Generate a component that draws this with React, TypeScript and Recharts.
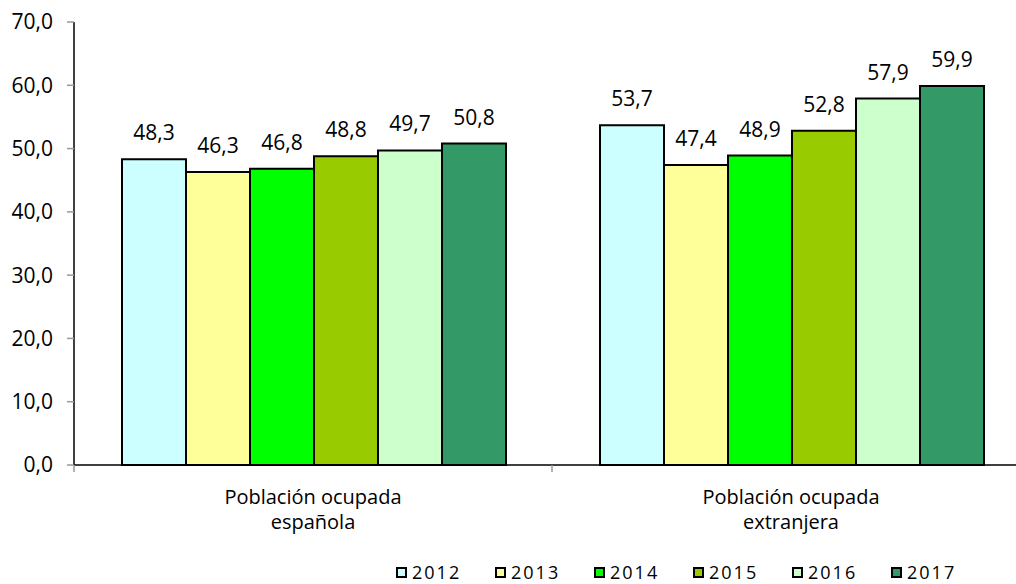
import React from 'react';
import { BarChart, Bar, XAxis, YAxis, LabelList } from 'recharts';

const categories = ['Población ocupada\nespañola', 'Población ocupada\nextranjera'];
const years = ['2012', '2013', '2014', '2015', '2016', '2017'];
const colors = ['#CCFFFF', '#FFFF99', '#00FF00', '#99CC00', '#CCFFCC', '#339966'];
const espanola = [48.3, 46.3, 46.8, 48.8, 49.7, 50.8];
const extranjera = [53.7, 47.4, 48.9, 52.8, 57.9, 59.9];
const yTicks = [0, 10, 20, 30, 40, 50, 60, 70];

const seriesByCategory = [espanola, extranjera];
const data = categories.map((name, i) => {
  const row: Record<string, string | number> = { name };
  years.forEach((y, j) => {
    row['y' + y] = seriesByCategory[i][j];
  });
  return row;
});

const FONT = '"Open Sans", "Noto Sans", sans-serif';
const fmt = (v: number) => Number(v).toFixed(1).replace('.', ',');
const HALF_BAND = 239;

function CategoryTick(props: any) {
  const { x, y, payload, index } = props;
  const lines = String(payload.value).split('\n');
  const axisY = y - 8;
  return (
    <g>
      {index === 0 && (
        <line x1={x - HALF_BAND} x2={x - HALF_BAND} y1={axisY} y2={axisY + 7} stroke="#999" strokeWidth={1.5} />
      )}
      <line x1={x + HALF_BAND} x2={x + HALF_BAND} y1={axisY} y2={axisY + 7} stroke="#999" strokeWidth={1.5} />
      {lines.map((l, i) => (
        <text key={i} x={x} y={axisY + 39 + i * 25} textAnchor="middle" fontSize={20} fill="#000" fontFamily={FONT}>
          {l}
        </text>
      ))}
    </g>
  );
}

export default function App() {
  return (
    <div style={{ position: 'absolute', left: 0, top: 0, width: 1016, height: 584, overflow: 'hidden', background: '#fff' }}>
      <BarChart
        width={1040}
        height={584}
        data={data}
        margin={{ top: 22, right: 10, bottom: 0, left: 0 }}
        barGap={0}
        barCategoryGap={48}
      >
        <XAxis
          dataKey="name"
          height={119}
          axisLine={{ stroke: '#000', strokeWidth: 1.5 }}
          tickLine={false}
          tick={<CategoryTick />}
          interval={0}
        />
        <YAxis
          width={74}
          domain={[0, 70]}
          ticks={yTicks}
          tickFormatter={fmt}
          axisLine={{ stroke: '#000', strokeWidth: 1.5 }}
          tickLine={{ stroke: '#999', strokeWidth: 1.5 }}
          tickSize={7}
          tickMargin={14}
          tick={{ fontSize: 21, fill: '#000', fontFamily: FONT }}
        />
        {years.map((y, i) => (
          <Bar
            key={y}
            dataKey={'y' + y}
            fill={colors[i]}
            stroke="#000"
            strokeWidth={2}
            isAnimationActive={false}
          >
            <LabelList
              dataKey={'y' + y}
              position="top"
              offset={19}
              formatter={(v: any) => fmt(v)}
              style={{ fontSize: 21, fill: '#000', fontFamily: FONT }}
            />
          </Bar>
        ))}
      </BarChart>
      <div style={{ position: 'absolute', top: 563, left: 396, display: 'flex', fontFamily: FONT, fontSize: 18, lineHeight: '18px', letterSpacing: 2 }}>
        {years.map((y, i) => (
          <div key={y} style={{ width: 99, display: 'flex', alignItems: 'center' }}>
            <span style={{ boxSizing: 'border-box', width: 11, height: 11, border: '2px solid #000', background: colors[i], marginRight: 5 }} />
            <span>{y}</span>
          </div>
        ))}
      </div>
    </div>
  );
}
